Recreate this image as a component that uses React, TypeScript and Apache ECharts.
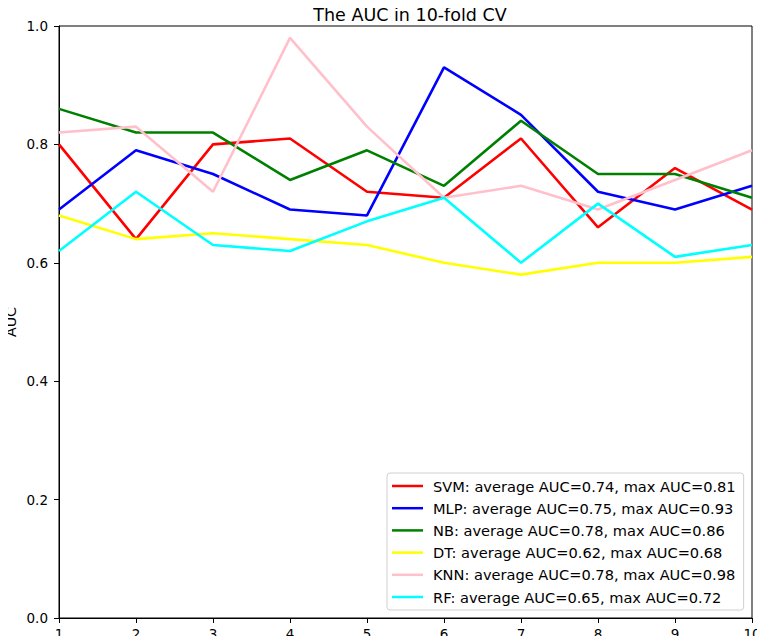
import React, { useEffect, useRef } from "react";
import * as echarts from "echarts";

const folds = [1, 2, 3, 4, 5, 6, 7, 8, 9, 10];
const seriesNames = [
  "SVM: average AUC=0.74, max AUC=0.81",
  "MLP: average AUC=0.75, max AUC=0.93",
  "NB: average AUC=0.78, max AUC=0.86",
  "DT: average AUC=0.62, max AUC=0.68",
  "KNN: average AUC=0.78, max AUC=0.98",
  "RF: average AUC=0.65, max AUC=0.72",
];
const seriesColors = ["#ff0000", "#0000ff", "#008000", "#ffff00", "#ffc0cb", "#00ffff"];
const svm = [0.8, 0.64, 0.8, 0.81, 0.72, 0.71, 0.81, 0.66, 0.76, 0.69];
const mlp = [0.69, 0.79, 0.75, 0.69, 0.68, 0.93, 0.85, 0.72, 0.69, 0.73];
const nb = [0.86, 0.82, 0.82, 0.74, 0.79, 0.73, 0.84, 0.75, 0.75, 0.71];
const dt = [0.68, 0.64, 0.65, 0.64, 0.63, 0.6, 0.58, 0.6, 0.6, 0.61];
const knn = [0.82, 0.83, 0.72, 0.98, 0.83, 0.71, 0.73, 0.69, 0.74, 0.79];
const rf = [0.62, 0.72, 0.63, 0.62, 0.67, 0.71, 0.6, 0.7, 0.61, 0.63];
const allValues = [svm, mlp, nb, dt, knn, rf];
const yAxisTitle = "AUC";

const FONT = "DejaVu Sans";

export default function App() {
  const ref = useRef<HTMLDivElement>(null);
  useEffect(() => {
    if (!ref.current) return;
    const chart = echarts.init(ref.current, undefined, { renderer: "svg" });
    chart.setOption({
      animation: false,
      backgroundColor: "#ffffff",
      textStyle: { fontFamily: FONT },
      title: {
        text: "The AUC in 10-fold CV",
        left: 405,
        textAlign: "center",
        top: 1,
        textStyle: { fontFamily: FONT, fontSize: 17.5, fontWeight: "normal", color: "#000" },
      },
      graphic: [
        {
          type: "text",
          x: 11,
          y: 322,
          rotation: Math.PI / 2,
          style: {
            text: yAxisTitle,
            fontFamily: FONT,
            fontSize: 14.2,
            fill: "#000",
            align: "center",
            verticalAlign: "middle",
            textAlign: "center",
            textVerticalAlign: "middle",
          },
        },
      ],
      grid: {
        left: 59,
        right: 13,
        top: 26,
        bottom: 26,
        outerBoundsMode: "none",
        containLabel: false,
        show: true,
        borderColor: "#000",
        borderWidth: 1,
        backgroundColor: "transparent",
      },
      legend: {
        orient: "vertical",
        left: 387,
        top: 473,
        padding: [5, 8, 5, 5],
        itemGap: 6.2,
        itemWidth: 31,
        itemHeight: 2.5,
        icon: "rect",
        backgroundColor: "#fff",
        borderColor: "#d0d0d0",
        borderWidth: 1,
        borderRadius: 3,
        textStyle: { fontFamily: FONT, fontSize: 14.6, color: "#000", lineHeight: 16, padding: [0, 0, 0, 5] },
        data: seriesNames,
      },
      xAxis: {
        type: "value",
        min: 1,
        max: 10,
        interval: 1,
        splitLine: { show: false },
        axisLine: { show: true, lineStyle: { color: "#000", width: 1 } },
        axisTick: { show: true, length: 5, lineStyle: { color: "#000" } },
        axisLabel: { fontFamily: FONT, fontSize: 13.5, color: "#000", margin: 9 },
      },
      yAxis: {
        type: "value",
        min: 0,
        max: 1,
        interval: 0.2,
        splitLine: { show: false },
        axisLine: { show: true, lineStyle: { color: "#000", width: 1 } },
        axisTick: { show: true, length: 5, lineStyle: { color: "#000" } },
        axisLabel: {
          fontFamily: FONT,
          fontSize: 13.5,
          color: "#000",
          margin: 11,
          formatter: (v: number) => v.toFixed(1),
        },
      },
      series: seriesNames.map((name, i) => ({
        name,
        type: "line",
        data: folds.map((f, j) => [f, allValues[i][j]]),
        showSymbol: false,
        symbol: "none",
        color: seriesColors[i],
        lineStyle: { color: seriesColors[i], width: 2.6 },
      })),
    });
    return () => chart.dispose();
  }, []);
  return <div ref={ref} style={{ width: 765, height: 644, margin: -8 }} />;
}
